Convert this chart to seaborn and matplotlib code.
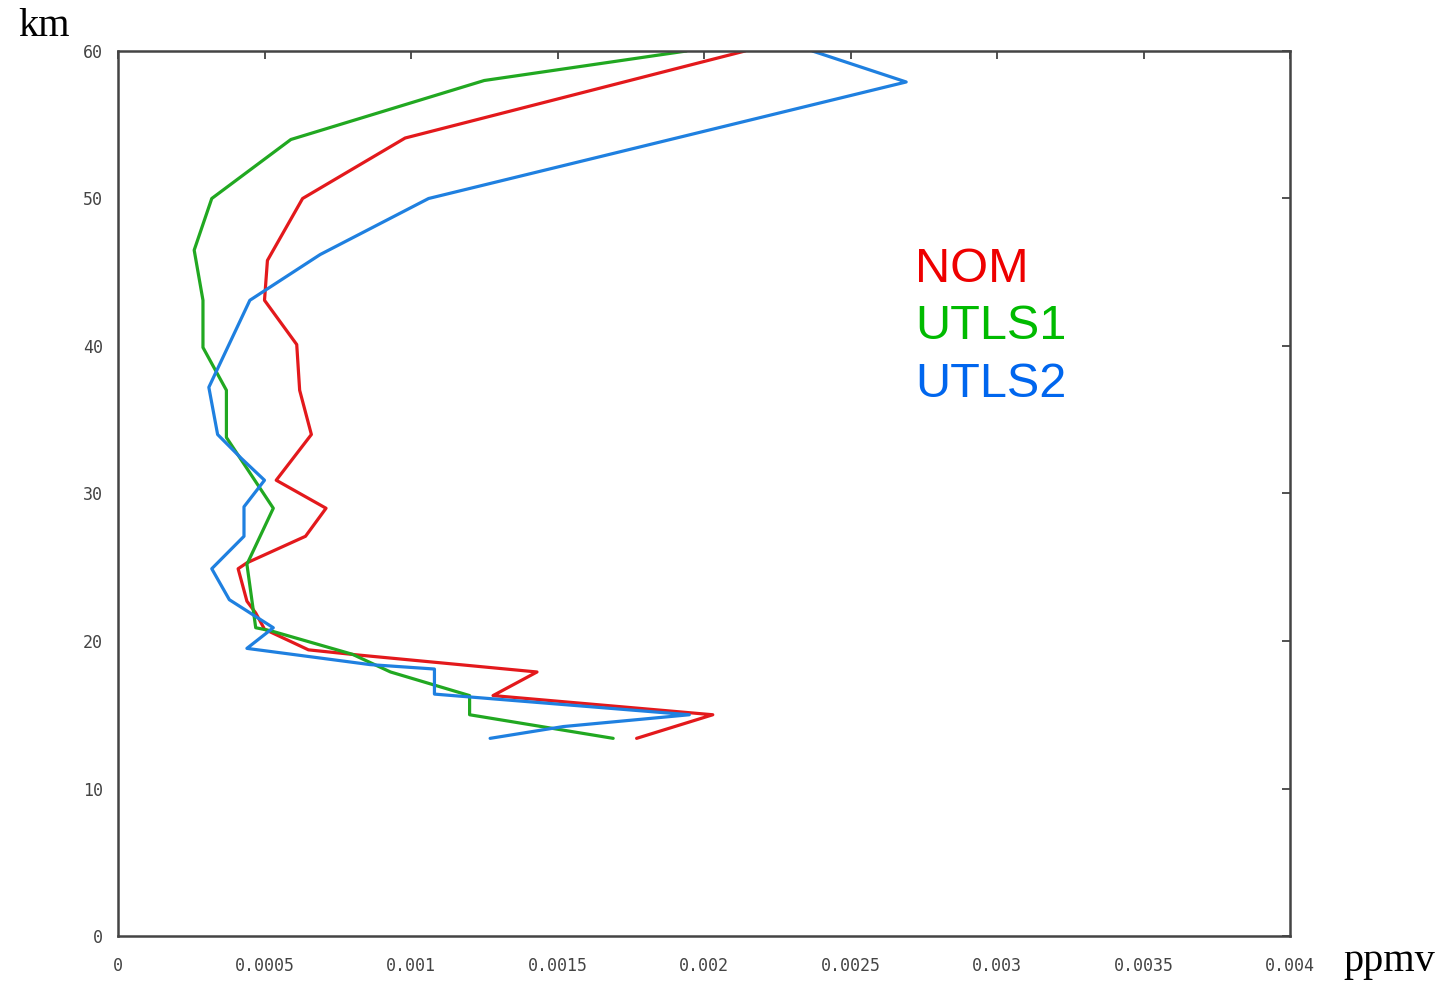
import matplotlib
matplotlib.use("Agg")
import matplotlib.pyplot as plt
import seaborn as sns
import pandas as pd

sns.set_theme(style="white")
plt.rcParams['font.family'] = ['DejaVu Sans Mono', 'DejaVu Sans']

series_names = ["NOM", "UTLS1", "UTLS2"]
line_colors = ["#e3191c", "#21a821", "#1f80e0"]
text_colors = ["#ee0000", "#00bb00", "#0066ee"]

nom_km = [60, 54.1, 50, 45.8, 43.1, 40.1, 37, 34, 30.9, 29, 27.1, 25.3, 24.9, 22.7, 21.9,
          20.8, 19.4, 19.05, 17.9, 16.3, 15.0, 13.4]
nom_ppmv = [0.00214, 0.00098, 0.00063, 0.00051, 0.00050, 0.00061, 0.00062, 0.00066, 0.00054,
            0.00071, 0.00064, 0.00044, 0.00041, 0.00044, 0.00047, 0.00050, 0.00065, 0.00082,
            0.00143, 0.00128, 0.00203, 0.00177]

utls1_km = [60, 58, 54, 50, 46.5, 43.1, 39.9, 37, 33.8, 29, 25.2, 20.9, 20.7, 19.1,
            17.9, 16.3, 15.0, 13.4]
utls1_ppmv = [0.00194, 0.00125, 0.00059, 0.00032, 0.00026, 0.00029, 0.00029, 0.00037,
              0.00037, 0.00053, 0.00044, 0.00047, 0.00052, 0.00080, 0.00093, 0.00120, 0.00120,
              0.00169]

utls2_km = [60, 57.9, 50, 46.2, 43.1, 37.2, 34, 32.4, 30.9, 29.1, 27.1, 24.9, 22.8, 20.9,
            19.5, 18.4, 18.1, 16.4, 15.0, 14.2, 13.4]
utls2_ppmv = [0.00237, 0.00269, 0.00106, 0.00069, 0.00045, 0.00031, 0.00034, 0.00042, 0.00050,
              0.00043, 0.00043, 0.00032, 0.00038, 0.00053, 0.00044, 0.00086, 0.00108, 0.00108,
              0.00195, 0.00152, 0.00127]

x_ticks = [0, 0.0005, 0.001, 0.0015, 0.002, 0.0025, 0.003, 0.0035, 0.004]
x_tick_labels = ["0", "0.0005", "0.001", "0.0015", "0.002", "0.0025", "0.003", "0.0035", "0.004"]
y_ticks = [0, 10, 20, 30, 40, 50, 60]

frames = []
for name, km, val in [("NOM", nom_km, nom_ppmv), ("UTLS1", utls1_km, utls1_ppmv),
                      ("UTLS2", utls2_km, utls2_ppmv)]:
    frames.append(pd.DataFrame({"series": name, "km": km, "ppmv": val}))
df = pd.concat(frames, ignore_index=True)

fig = plt.figure(figsize=(14.5, 9.84), dpi=100)
ax = fig.add_axes([118/1450, 1-936/984, (1290-118)/1450, (936-51)/984])

sns.lineplot(data=df, x="ppmv", y="km", hue="series", hue_order=series_names,
             palette=line_colors, sort=False, estimator=None, units="series",
             legend=False, linewidth=2.3, ax=ax)

ax.set_xlim(0, 0.004)
ax.set_ylim(0, 60)
ax.set_xticks(x_ticks)
ax.set_xticklabels(x_tick_labels)
ax.set_yticks(y_ticks)
ax.set_xlabel("")
ax.set_ylabel("")
ax.tick_params(direction="in", length=6, width=1.2, color="#333333",
               top=True, right=True, labelsize=12, labelcolor="#444444")
ax.tick_params(axis="x", pad=15)
ax.tick_params(axis="y", pad=11)
for s in ax.spines.values():
    s.set_color("#444444")
    s.set_linewidth(1.8)

ax.grid(False)

fig.text(18/1450, 1-26/984, "km", family="Liberation Serif", fontsize=29,
         ha="left", va="center", color="black")
fig.text(1343/1450, 1-962/984, "ppmv", family="Liberation Serif", fontsize=29,
         ha="left", va="center", color="black")

for i, (name, col) in enumerate(zip(series_names, text_colors)):
    ax.text(0.00272, 45.2 - i * 3.9, name, family="Liberation Sans", fontsize=35,
            color=col, ha="left", va="center")

fig.savefig("out.png", dpi=100, facecolor="white")
